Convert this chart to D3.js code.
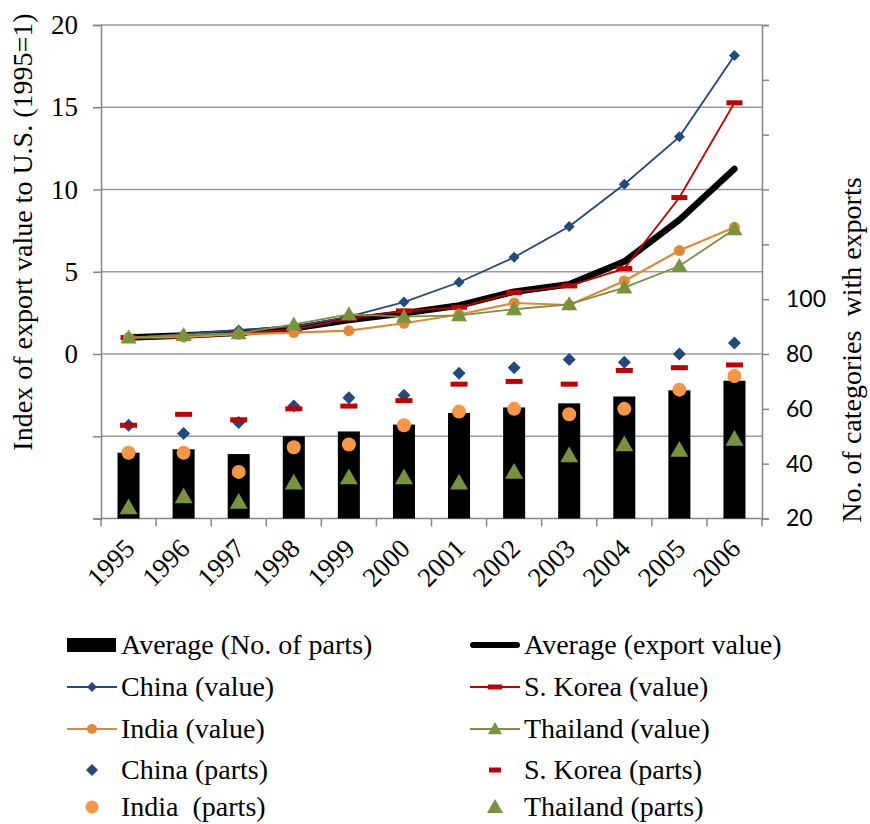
<!DOCTYPE html>
<html>
<head>
<meta charset="utf-8">
<script src="https://cdn.jsdelivr.net/npm/d3@7"></script>
<style>
  html, body { margin: 0; padding: 0; background: #fff; }
  svg { display: block; }
</style>
</head>
<body>
<svg id="chart" width="870" height="824"></svg>
<script>
// ---------- data ----------
const years = ["1995","1996","1997","1998","1999","2000","2001","2002","2003","2004","2005","2006"];

// Index of export value to U.S. (1995 = 1) -- left axis
const avgValue      = [1, 1.12, 1.29, 1.56, 2.07, 2.48, 2.95, 3.79, 4.24, 5.62, 8.15, 11.25];
const chinaValue    = [1, 1.2, 1.46, 1.66, 2.27, 3.16, 4.36, 5.88, 7.75, 10.32, 13.2, 18.15];
const koreaValue    = [1, 1.1, 1.25, 1.5, 2.17, 2.62, 2.84, 3.73, 4.14, 5.19, 9.51, 15.27];
const indiaValue    = [1, 1.02, 1.2, 1.3, 1.42, 1.87, 2.4, 3.1, 2.98, 4.44, 6.29, 7.7];
const thailandValue = [1, 1.16, 1.26, 1.8, 2.41, 2.27, 2.35, 2.72, 3.02, 4.04, 5.35, 7.58];

// No. of categories with exports -- right axis
const avgParts      = [44, 45.25, 43.5, 50, 51.75, 54.25, 58.5, 60.5, 62, 64.5, 66.75, 70.25];
const chinaParts    = [54, 51, 55, 61, 64, 65, 73, 75, 78, 77, 80, 84];
const koreaParts    = [54, 58, 56, 60, 61, 63, 69, 70, 69, 74, 75, 76];
const indiaParts    = [44, 44, 37, 46, 47, 54, 59, 60, 58, 60, 67, 72];
const thailandParts = [24, 28, 26, 33, 35, 35, 33, 37, 43, 47, 45, 49];

const leftTicks  = [-10, -5, 0, 5, 10, 15, 20];
const leftLabels = ["", "", "0", "5", "10", "15", "20"];
const rightTicks  = [20, 40, 60, 80, 100, 120, 140, 160, 180, 200];
const rightLabels = ["20", "40", "60", "80", "100", "", "", "", "", ""];

const leftTitle  = "Index of export value to U.S. (1995=1)";
const rightTitle = "No. of categories\u00a0 with exports";

// ---------- styles ----------
const C = {
  china: "#24497c", korea: "#c00000", indiaLine: "#e0883a", india: "#f79646",
  thai: "#77933c", grid: "#9a9a9a", axis: "#868686"
};
const serif = "'Liberation Serif', 'Times New Roman', serif";
const sans  = "Lato, 'Open Sans', sans-serif";
const serifSize = 27;

// ---------- layout ----------
const svg = d3.select("#chart");
const plot = { left: 101, right: 762, top: 25, bottom: 518.5 };

const x = d3.scaleBand().domain(years).range([plot.left, plot.right]).paddingInner(0).paddingOuter(0);
const yL = d3.scaleLinear().domain([-10, 20]).range([plot.bottom, plot.top]);
const yR = d3.scaleLinear().domain([20, 200]).range([plot.bottom, plot.top]);
const cx = d => x(d) + x.bandwidth() / 2;

// gridlines
svg.append("g").selectAll("line").data(leftTicks.filter(t => t > -10)).join("line")
  .attr("x1", plot.left).attr("x2", plot.right)
  .attr("y1", d => yL(d)).attr("y2", d => yL(d))
  .attr("stroke", C.grid).attr("stroke-width", 1.5);

// left axis
const gL = svg.append("g").attr("transform", `translate(${plot.left},0)`)
  .call(d3.axisLeft(yL).tickValues(leftTicks).tickSize(8).tickFormat((d, i) => leftLabels[i]));
gL.select(".domain").attr("stroke", C.axis).attr("stroke-width", 1.5);
gL.selectAll(".tick line").attr("stroke", C.axis).attr("stroke-width", 1.5);
gL.selectAll(".tick text").attr("font-family", serif).attr("font-size", serifSize).attr("fill", "#000").attr("x", -23);

// right axis
const gR = svg.append("g").attr("transform", `translate(${plot.right},0)`)
  .call(d3.axisRight(yR).tickValues(rightTicks).tickSize(7).tickFormat((d, i) => rightLabels[i]));
gR.select(".domain").attr("stroke", C.axis).attr("stroke-width", 1.5);
gR.selectAll(".tick line").attr("stroke", C.axis).attr("stroke-width", 1.5);
gR.selectAll(".tick text").attr("font-family", sans).attr("font-size", 23).attr("fill", "#000").attr("x", 24);

// bottom axis
const bnds = d3.range(years.length + 1).map(i => plot.left + i * x.step());
svg.append("line").attr("x1", plot.left).attr("x2", plot.right)
  .attr("y1", plot.bottom).attr("y2", plot.bottom).attr("stroke", C.axis).attr("stroke-width", 1.5);
svg.append("g").selectAll("line").data(bnds).join("line")
  .attr("x1", d => d).attr("x2", d => d).attr("y1", plot.bottom).attr("y2", plot.bottom + 8)
  .attr("stroke", C.axis).attr("stroke-width", 1.5);
svg.append("g").selectAll("text").data(years).join("text")
  .attr("transform", d => `translate(${cx(d) + 1},${plot.bottom + 25}) rotate(-45)`)
  .attr("text-anchor", "end").attr("dy", "0.35em")
  .attr("font-family", serif).attr("font-size", serifSize).text(d => d);

// axis titles
svg.append("text").attr("transform", `translate(32,232) rotate(-90)`)
  .attr("text-anchor", "middle").attr("font-family", serif).attr("font-size", 28).text(leftTitle);
svg.append("text").attr("transform", `translate(861,350) rotate(-90)`)
  .attr("text-anchor", "middle").attr("font-family", serif).attr("font-size", 28).text(rightTitle);

// bars
const barW = x.bandwidth() / 2.5;
svg.append("g").selectAll("rect").data(years).join("rect")
  .attr("x", d => cx(d) - barW / 2).attr("width", barW)
  .attr("y", (d, i) => yR(avgParts[i])).attr("height", (d, i) => yR(20) - yR(avgParts[i]))
  .attr("fill", "#000");

// marker drawing helpers
function marker(g, type, px, py, color, s) {
  if (type === "diamond") {
    g.append("path").attr("d", `M${px},${py - s}L${px + s},${py}L${px},${py + s}L${px - s},${py}Z`).attr("fill", color);
  } else if (type === "dash") {
    g.append("rect").attr("x", px - s).attr("y", py - 2.5).attr("width", 2 * s).attr("height", 5).attr("fill", color);
  } else if (type === "circle") {
    g.append("circle").attr("cx", px).attr("cy", py).attr("r", s).attr("fill", color);
  } else if (type === "triangle") {
    g.append("path").attr("d", `M${px},${py - s}L${px + s},${py + s * 0.75}L${px - s},${py + s * 0.75}Z`).attr("fill", color);
  }
}

const line = d3.line().x((d, i) => cx(years[i])).y(d => yL(d));

// value lines
svg.append("path").datum(avgValue).attr("d", line).attr("fill", "none")
  .attr("stroke", "#000").attr("stroke-width", 6.5).attr("stroke-linejoin", "round").attr("stroke-linecap", "round");

const valueSeries = [
  { data: chinaValue, color: C.china, mcolor: C.china, type: "diamond", s: 5.5, w: 1.8 },
  { data: koreaValue, color: C.korea, mcolor: C.korea, type: "dash", s: 8, w: 1.8 },
  { data: indiaValue, color: C.indiaLine, mcolor: C.indiaLine, type: "circle", s: 5.5, w: 2.2 },
  { data: thailandValue, color: C.thai, mcolor: C.thai, type: "triangle", s: 8, w: 1.8 }
];
valueSeries.forEach(sr => {
  const g = svg.append("g");
  g.append("path").datum(sr.data).attr("d", line).attr("fill", "none")
    .attr("stroke", sr.color).attr("stroke-width", sr.w);
  sr.data.forEach((v, i) => marker(g, sr.type, cx(years[i]), yL(v), sr.mcolor, sr.s));
});

// parts markers
const partsSeries = [
  { data: chinaParts, color: C.china, type: "diamond", s: 6.5 },
  { data: koreaParts, color: C.korea, type: "dash", s: 8.5 },
  { data: indiaParts, color: C.india, type: "circle", s: 7 },
  { data: thailandParts, color: C.thai, type: "triangle", s: 9 }
];
partsSeries.forEach(sr => {
  const g = svg.append("g");
  sr.data.forEach((v, i) => marker(g, sr.type, cx(years[i]), yR(v), sr.color, sr.s));
});

// ---------- legend ----------
const legendItems = [
  { label: "Average (No. of parts)", kind: "bar" },
  { label: "Average (export value)", kind: "thick" },
  { label: "China (value)", kind: "line", color: C.china, type: "diamond", s: 5 },
  { label: "S. Korea (value)", kind: "line", color: C.korea, type: "dash", s: 7 },
  { label: "India (value)", kind: "line", color: C.indiaLine, type: "circle", s: 5 },
  { label: "Thailand (value)", kind: "line", color: C.thai, type: "triangle", s: 7 },
  { label: "China (parts)", kind: "pt", color: C.china, type: "diamond", s: 6 },
  { label: "S. Korea (parts)", kind: "pt", color: C.korea, type: "dash", s: 6 },
  { label: "India  (parts)", kind: "pt", color: C.india, type: "circle", s: 6.5 },
  { label: "Thailand (parts)", kind: "pt", color: C.thai, type: "triangle", s: 8 }
];
const legRowY = [645, 687, 729, 770, 807];
const legColX = [67, 470];
const leg = svg.append("g");
legendItems.forEach((it, k) => {
  const col = k % 2, row = Math.floor(k / 2);
  const x0 = legColX[col], yc = legRowY[row], x1 = x0 + 50, mx = x0 + 25;
  const g = leg.append("g");
  if (it.kind === "bar") {
    g.append("rect").attr("x", x0).attr("y", yc - 7).attr("width", 49).attr("height", 14).attr("fill", "#000");
  } else if (it.kind === "thick") {
    g.append("line").attr("x1", x0 + 3).attr("x2", x1 - 3).attr("y1", yc).attr("y2", yc)
      .attr("stroke", "#000").attr("stroke-width", 6).attr("stroke-linecap", "round");
  } else if (it.kind === "line") {
    g.append("line").attr("x1", x0).attr("x2", x1).attr("y1", yc).attr("y2", yc)
      .attr("stroke", it.color).attr("stroke-width", 2);
    marker(g, it.type, mx, yc, it.color, it.s);
  } else {
    marker(g, it.type, mx, yc, it.color, it.s);
  }
  g.append("text").attr("x", x1 + 4).attr("y", yc).attr("dy", "0.33em")
    .attr("font-family", serif).attr("font-size", 28).attr("xml:space", "preserve")
    .style("white-space", "pre").text(it.label);
});
</script>
</body>
</html>
